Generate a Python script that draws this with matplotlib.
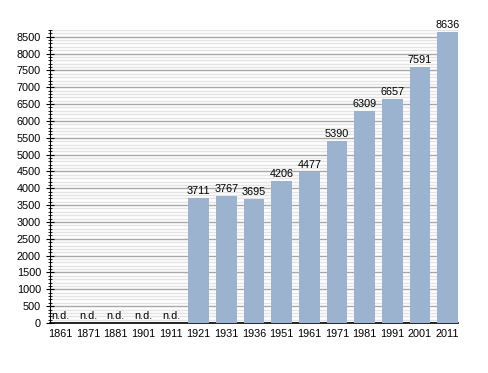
import matplotlib.pyplot as plt
from matplotlib.ticker import MultipleLocator

plt.rcParams['font.family'] = ['Liberation Sans', 'DejaVu Sans']

# census years and population (None = no data)
years = ['1861', '1871', '1881', '1901', '1911', '1921', '1931', '1936',
         '1951', '1961', '1971', '1981', '1991', '2001', '2011']
population = [None, None, None, None, None, 3711, 3767, 3695,
              4206, 4477, 5390, 6309, 6657, 7591, 8636]

fig = plt.figure(figsize=(4.88, 3.73), dpi=100)
ax = fig.add_axes([50 / 488, 1 - 323 / 373, 408 / 488, 293 / 373])

x = list(range(len(years)))
heights = [p if p is not None else 0 for p in population]
ax.bar(x, heights, width=0.75, color='#9bb3cf', zorder=3)

# value labels
for xi, p in zip(x, population):
    if p is None:
        ax.text(xi, 60, 'n.d.', ha='center', va='bottom', fontsize=7.8, zorder=4)
    else:
        ax.text(xi, p + 60, str(p), ha='center', va='bottom', fontsize=7.8, zorder=4)

ax.set_xlim(-0.375, len(years) - 0.625)
ax.set_ylim(0, 8700)
ax.set_xticks(x)
ax.set_xticklabels(years, fontsize=7.8)
ax.yaxis.set_major_locator(MultipleLocator(500))
ax.yaxis.set_minor_locator(MultipleLocator(100))
ax.tick_params(axis='y', labelsize=7.8, which='major', direction='inout', length=6, width=0.8)
ax.tick_params(axis='y', which='minor', direction='inout', length=3, width=0.6)
ax.tick_params(axis='x', length=0, pad=4)

ax.grid(axis='y', which='major', color='#a8a8a8', linewidth=1, zorder=1)
ax.grid(axis='y', which='minor', color='#e4e4e4', linewidth=1, zorder=1)

for s in ['top', 'right']:
    ax.spines[s].set_visible(False)
ax.spines['left'].set_color('black')
ax.spines['bottom'].set_color('black')
ax.spines['bottom'].set_linewidth(1.2)

fig.savefig('out.png', dpi=100)
